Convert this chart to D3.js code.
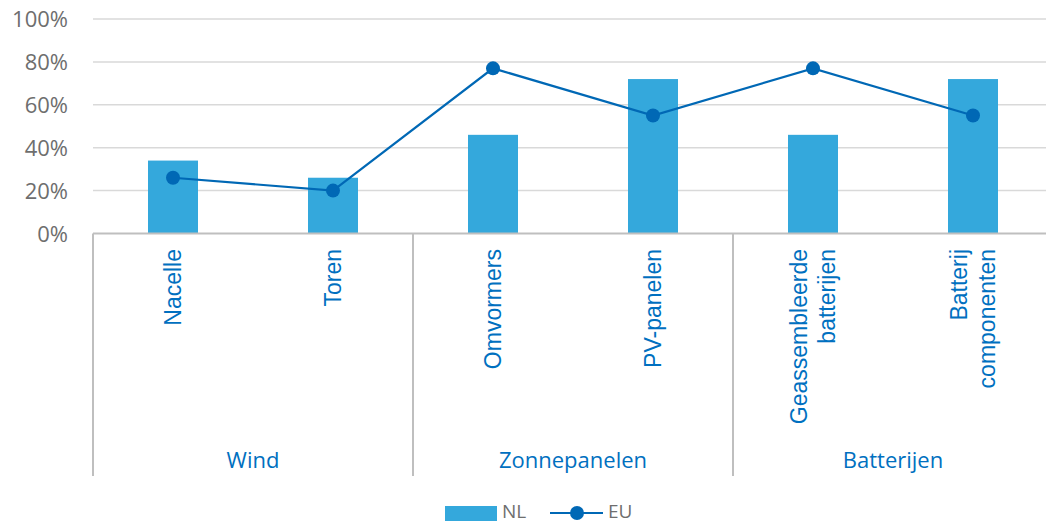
<!DOCTYPE html>
<html>
<head>
<meta charset="utf-8">
<script src="https://cdn.jsdelivr.net/npm/d3@7"></script>
<style>
  body { margin: 0; background: #fff; }
  svg { display: block; }
</style>
</head>
<body>
<svg id="chart" width="1046" height="524"></svg>
<script>
// data
const categories = ["Nacelle", "Toren", "Omvormers", "PV-panelen", "Geassembleerde batterijen", "Batterij componenten"];
const labelLines = [["Nacelle"], ["Toren"], ["Omvormers"], ["PV-panelen"], ["Geassembleerde", "batterijen"], ["Batterij", "componenten"]];
const groups = ["Wind", "Zonnepanelen", "Batterijen"];
const groupOf = [0, 0, 1, 1, 2, 2];
const nlValues = [34, 26, 46, 72, 46, 72];
const euValues = [26, 20, 77, 55, 77, 55];
const yTicks = [0, 20, 40, 60, 80, 100];

const barColor = "#34a8dc";
const lineColor = "#0068b5";
const labelColor = "#0070c0";

let svg = d3.select("#chart");
let plotLeft = 93, plotRight = 1053, plotTop = 19, plotBottom = 233.5;

let x = d3.scaleBand().domain(categories).range([plotLeft, plotRight]).padding(0);
let y = d3.scaleLinear().domain([0, 100]).range([plotBottom, plotTop]);
let barW = x.bandwidth() * 50 / 160;

// gridlines
svg.append("g")
  .selectAll("line")
  .data(yTicks.filter(d => d > 0))
  .enter().append("line")
    .attr("x1", plotLeft).attr("x2", plotRight)
    .attr("y1", d => y(d)).attr("y2", d => y(d))
    .attr("stroke", "#d9d9d9").attr("stroke-width", 1.5);

// y labels
svg.append("g")
  .selectAll("text")
  .data(yTicks)
  .enter().append("text")
    .attr("x", 68).attr("y", d => y(d) + 8)
    .attr("text-anchor", "end")
    .attr("font-family", "Open Sans, sans-serif")
    .attr("font-size", "22px")
    .attr("fill", "#6e6e6e")
    .text(d => d + "%");

// bars
svg.append("g")
  .selectAll("rect")
  .data(nlValues)
  .enter().append("rect")
    .attr("x", (d, i) => x(categories[i]) + x.bandwidth() / 2 - barW / 2)
    .attr("y", d => y(d))
    .attr("width", barW)
    .attr("height", d => y(0) - y(d))
    .attr("fill", barColor);

// x axis line
svg.append("line")
  .attr("x1", plotLeft).attr("x2", plotRight)
  .attr("y1", plotBottom).attr("y2", plotBottom)
  .attr("stroke", "#bfbfbf").attr("stroke-width", 2);

// group separators
let sepX = [plotLeft];
groups.forEach((g, gi) => {
  let last = categories.filter((c, i) => groupOf[i] === gi).pop();
  sepX.push(x(last) + x.bandwidth());
});
svg.append("g")
  .selectAll("line")
  .data(sepX)
  .enter().append("line")
    .attr("x1", d => d).attr("x2", d => d)
    .attr("y1", plotBottom).attr("y2", 476)
    .attr("stroke", "#bfbfbf").attr("stroke-width", 2);

// category labels (rotated)
let catG = svg.append("g")
  .selectAll("text")
  .data(categories)
  .enter().append("text")
    .attr("transform", (d, i) => {
      let cx = x(d) + x.bandwidth() / 2;
      let n = labelLines[i].length;
      return `translate(${cx - (n - 1) * 14 + 8},249) rotate(-90)`;
    })
    .attr("text-anchor", "end")
    .style("font-family", "'Liberation Sans', Arial, sans-serif")
    .attr("font-size", "23px")
    .attr("fill", labelColor);
catG.each(function(d, i) {
  d3.select(this).selectAll("tspan")
    .data(labelLines[i])
    .enter().append("tspan")
      .attr("x", 0)
      .attr("dy", (t, j) => j === 0 ? 0 : 28)
      .text(t => t);
});

// group labels
svg.append("g")
  .selectAll("text")
  .data(groups)
  .enter().append("text")
    .attr("x", (d, i) => (sepX[i] + sepX[i + 1]) / 2)
    .attr("y", 468)
    .attr("text-anchor", "middle")
    .attr("font-family", "Open Sans, sans-serif")
    .attr("font-size", "22px")
    .attr("fill", labelColor)
    .text(d => d);

// EU line
let line = d3.line()
  .x((d, i) => x(categories[i]) + x.bandwidth() / 2)
  .y(d => y(d));
svg.append("path")
  .datum(euValues)
  .attr("d", line)
  .attr("fill", "none")
  .attr("stroke", lineColor)
  .attr("stroke-width", 2.2);
svg.append("g")
  .selectAll("circle")
  .data(euValues)
  .enter().append("circle")
    .attr("cx", (d, i) => x(categories[i]) + x.bandwidth() / 2)
    .attr("cy", d => y(d))
    .attr("r", 7)
    .attr("fill", lineColor);

// legend
let lg = svg.append("g");
lg.append("rect").attr("x", 445).attr("y", 506).attr("width", 52).attr("height", 15).attr("fill", barColor);
lg.append("text").attr("x", 502).attr("y", 518)
  .attr("font-family", "Open Sans, sans-serif").attr("font-size", "19px").attr("fill", "#6e6e6e").text("NL");
lg.append("line").attr("x1", 550).attr("x2", 603).attr("y1", 513).attr("y2", 513)
  .attr("stroke", lineColor).attr("stroke-width", 2.2);
lg.append("circle").attr("cx", 577).attr("cy", 513).attr("r", 7).attr("fill", lineColor);
lg.append("text").attr("x", 608).attr("y", 518)
  .attr("font-family", "Open Sans, sans-serif").attr("font-size", "19px").attr("fill", "#6e6e6e").text("EU");
</script>
</body>
</html>
